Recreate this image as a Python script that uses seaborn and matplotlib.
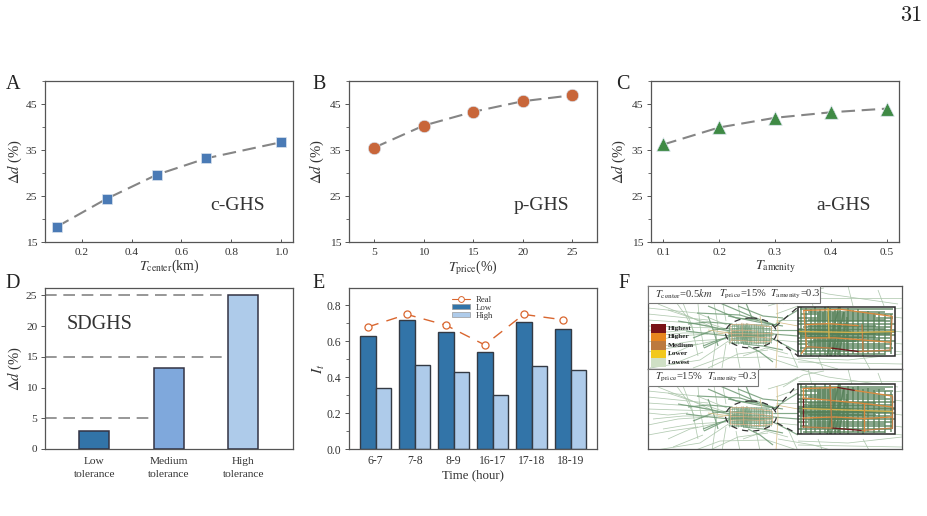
import matplotlib
matplotlib.use("Agg")
import matplotlib.pyplot as plt
from matplotlib.collections import LineCollection
from matplotlib.lines import Line2D
from matplotlib.patches import Ellipse, Patch, Rectangle
import pandas as pd
import seaborn as sns

# ---- sensitivity curves ----
T_CENTER = [0.1, 0.3, 0.5, 0.7, 1.0]
D_CENTER = [18.3, 24.4, 29.6, 33.2, 36.7]
T_PRICE = [5, 10, 15, 20, 25]
D_PRICE = [35.5, 40.3, 43.3, 45.6, 46.9]
T_AMENITY = [0.1, 0.2, 0.3, 0.4, 0.5]
D_AMENITY = [36.2, 39.9, 42.0, 43.2, 44.0]

# ---- tolerance bars ----
TOLERANCE = ["Low\ntolerance", "Medium\ntolerance", "High\ntolerance"]
D_TOLERANCE = [3.0, 13.2, 25.1]
TOLERANCE_REFS = [5, 15, 25]

# ---- hourly bars ----
HOURS = ["6-7", "7-8", "8-9", "16-17", "17-18", "18-19"]
I_LOW = [0.63, 0.72, 0.65, 0.54, 0.71, 0.67]
I_HIGH = [0.34, 0.47, 0.43, 0.30, 0.46, 0.44]
I_REAL = [0.68, 0.75, 0.69, 0.58, 0.75, 0.72]

# ---- street network: regional roads, in panel units ----
ROADS_DARK = [
    [(49, 27), (92, 29), (125, 39)], [(72, 17), (105, 31), (127, 39)],
    [(60, 20), (88, 32), (110, 34)], [(56, 62), (79, 51)],
    [(30, 35), (60, 40), (82, 45)], [(38, 45), (62, 48), (82, 50)],
    [(55, 60), (70, 54), (85, 50)], [(100, 60), (112, 66), (125, 76)],
    [(98, 17), (104, 32)], [(125, 40), (140, 30), (150, 24)],
    [(123, 52), (135, 58), (150, 66)], [(60, 30), (66, 46), (70, 60)],
    [(40, 38), (60, 36), (84, 38)], [(45, 52), (65, 44), (82, 42)],
    [(80, 30), (110, 36), (135, 40)], [(125, 44), (150, 44)], [(125, 48), (150, 50)],
    [(90, 20), (115, 30), (135, 32)], [(95, 58), (115, 60), (135, 64)],
]
ROADS_PALE = [
    [(0, 22), (49, 27), (79, 39)], [(0, 34), (45, 37), (82, 46)],
    [(2, 82), (52, 74), (82, 54)], [(45, 82), (72, 72), (119, 71), (149, 81)],
    [(0, 56), (30, 50), (60, 48)], [(10, 18), (40, 30), (66, 42)],
    [(20, 70), (42, 60), (66, 55)], [(35, 17), (44, 40), (50, 70)],
    [(66, 17), (70, 40), (64, 82)], [(90, 17), (92, 30)], [(88, 62), (92, 82)],
    [(108, 62), (112, 82)], [(150, 0), (180, 8), (250, 18)],
    [(135, 18), (155, 6), (176, 2)], [(200, 0), (205, 20)], [(230, 4), (236, 20)],
    [(150, 72), (200, 74), (254, 68)], [(170, 70), (175, 83)], [(215, 70), (222, 83)],
    [(238, 30), (254, 32)], [(238, 44), (254, 46)], [(238, 56), (254, 58)],
    [(128, 34), (150, 34)], [(128, 54), (150, 56)], [(128, 28), (150, 20)],
    [(0, 44), (20, 46), (40, 44)], [(140, 60), (150, 82)], [(25, 78), (55, 66)],
    [(0, 28), (30, 31), (60, 34)], [(0, 40), (30, 41), (70, 42)], [(5, 50), (35, 47), (75, 47)],
    [(15, 60), (45, 55), (78, 53)], [(20, 24), (50, 34), (78, 43)], [(28, 16), (38, 30), (46, 46)],
    [(50, 18), (52, 40), (56, 62)], [(75, 18), (78, 35)], [(78, 58), (74, 82)],
    [(95, 70), (118, 62), (140, 68)], [(60, 82), (90, 68), (120, 64)], [(120, 20), (140, 14), (150, 8)],
    [(130, 70), (165, 76), (190, 83)], [(150, 12), (200, 12), (254, 12)], [(160, 0), (165, 20)],
    [(150, 76), (254, 78)], [(238, 24), (254, 22)], [(238, 64), (254, 66)], [(0, 66), (22, 62), (50, 58)],
]
ROADS_TAN = [[(129, 17), (130, 48), (128, 82)], [(112, 30), (118, 60)], [(70, 48), (95, 44)],
             [(128, 36), (150, 40)], [(60, 44), (82, 47)]]

# ---- street network: central district, in unit-square coordinates ----
GRID_ROWS = [
    (0.05, 0.02, 0.98), (0.10, 0.1, 0.9), (0.14, 0.03, 0.98), (0.18, 0.2, 0.8), (0.22, 0.0, 0.98),
    (0.26, 0.1, 0.9), (0.29, 0.0, 0.95), (0.35, 0.0, 1.0), (0.38, 0.1, 0.8), (0.41, 0.05, 0.97),
    (0.44, 0.1, 0.9), (0.47, 0.0, 1.0), (0.50, 0.0, 1.0), (0.53, 0.0, 0.97), (0.56, 0.05, 0.95),
    (0.58, 0.02, 1.0), (0.61, 0.1, 0.8), (0.64, 0.0, 0.95), (0.67, 0.15, 0.85), (0.70, 0.0, 1.0),
    (0.76, 0.0, 0.97), (0.80, 0.1, 0.9), (0.83, 0.02, 0.98), (0.90, 0.0, 0.96), (0.96, 0.05, 0.9),
]
GRID_COLS = [
    (0.03, 0.0, 1.0), (0.08, 0.02, 0.98), (0.13, 0.04, 1.0), (0.18, 0.0, 0.96), (0.21, 0.1, 0.9),
    (0.23, 0.05, 1.0), (0.26, 0.1, 0.9), (0.28, 0.0, 0.97), (0.31, 0.1, 0.95), (0.33, 0.02, 1.0),
    (0.36, 0.1, 0.9), (0.38, 0.06, 0.96), (0.41, 0.1, 0.98), (0.43, 0.0, 1.0), (0.47, 0.1, 0.98),
    (0.50, 0.2, 0.9), (0.52, 0.03, 1.0), (0.57, 0.06, 0.95), (0.62, 0.04, 0.98), (0.67, 0.1, 1.0),
    (0.72, 0.08, 0.96), (0.78, 0.12, 0.98), (0.84, 0.1, 0.95), (0.90, 0.14, 0.98), (0.96, 0.15, 0.95),
]
GRID_SLANTS = [
    [(0.30, 1.0), (0.42, 0.0)], [(0.38, 1.0), (0.47, 0.1)], [(0.42, 0.95), (0.5, 0.3)],
    [(0.34, 1.0), (0.44, 0.3)], [(0.0, 0.45), (0.55, 0.5)], [(0.02, 0.6), (0.7, 0.62)],
    [(0.1, 0.72), (0.6, 0.7)], [(0.0, 0.55), (0.8, 0.55)],
]

# Classified arterials per scenario: (class, polyline)
ARTERIALS_A = [
    ("Higher", [(0.06, 0.07), (0.45, 0.05), (0.97, 0.19)]),
    ("Medium", [(0.97, 0.19), (0.95, 0.88)]),
    ("Higher", [(0.06, 0.07), (0.087, 0.81), (0.035, 0.95)]),
    ("Medium", [(0.087, 0.81), (0.35, 0.84)]),
    ("Highest", [(0.35, 0.84), (0.63, 0.91)]),
    ("Medium", [(0.63, 0.91), (0.95, 0.88)]),
    ("Higher", [(0.087, 0.36), (0.31, 0.34), (0.62, 0.38)]),
    ("Higher", [(0.087, 0.63), (0.38, 0.63), (0.66, 0.67), (0.95, 0.72)]),
    ("Lower", [(0.31, 0.0), (0.32, 0.63)]),
    ("Medium", [(0.66, 0.36), (0.67, 0.9)]),
    ("Lower", [(0.0, 0.5), (0.6, 0.52), (1.0, 0.5)]),
]
ARTERIALS_B = [
    ("Higher", [(0.05, 0.09), (0.41, 0.07)]),
    ("Highest", [(0.41, 0.07), (0.59, 0.13)]),
    ("Higher", [(0.59, 0.13), (0.97, 0.24)]),
    ("Medium", [(0.97, 0.24), (0.97, 0.88)]),
    ("Highest", [(0.05, 0.28), (0.05, 0.86)]),
    ("Higher", [(0.05, 0.09), (0.05, 0.28)]),
    ("Medium", [(0.05, 0.86), (0.35, 0.88)]),
    ("Highest", [(0.35, 0.88), (0.66, 0.93)]),
    ("Medium", [(0.66, 0.93), (0.97, 0.88)]),
    ("Higher", [(0.05, 0.28), (0.35, 0.33), (0.68, 0.39), (0.97, 0.46)]),
    ("Higher", [(0.05, 0.68), (0.38, 0.66), (0.68, 0.69), (0.97, 0.66)]),
    ("Lower", [(0.05, 0.49), (0.5, 0.52), (0.97, 0.55)]),
    ("Medium", [(0.33, 0.03), (0.35, 0.88)]),
    ("Higher", [(0.68, 0.39), (0.68, 0.93)]),
]

LEVELS = ["Highest", "Higher", "Medium", "Lower", "Lowest"]
LEVEL_COLORS = ["#7a1418", "#e8861f", "#bc7a3f", "#f2c81e", "#cfe0c5"]
ROAD_COLORS = {"Highest": "#6e1a1c", "Higher": "#d98a3f", "Medium": "#bd7f48", "Lower": "#d4b24c"}

# ---- styling ----
sns.set_theme(style="ticks")
INK = "#333333"
SPINE = "#555555"
plt.rcParams.update({
    "font.family": ["Liberation Serif", "DejaVu Serif"],
    "mathtext.fontset": "stix",
    "text.color": INK,
    "axes.labelcolor": INK,
    "xtick.color": SPINE,
    "ytick.color": SPINE,
    "xtick.labelcolor": INK,
    "ytick.labelcolor": INK,
    "axes.edgecolor": SPINE,
    "axes.linewidth": 0.9,
})

W, H = 928, 516
fig = plt.figure(figsize=(W / 100, H / 100), dpi=100, facecolor="white")


def axes_px(left, top, right, bottom):
    """Create axes from a box given in figure pixels, measured from the top left."""
    return fig.add_axes([left / W, 1 - bottom / H, (right - left) / W, (bottom - top) / H])


def letter(text, x, y):
    fig.text(x / W, 1 - y / H, text, fontsize=14.5, ha="center", va="center", color="#222222")


def style_ticks(ax, size=8.2):
    ax.tick_params(axis="y", which="major", labelsize=size, length=3, width=0.7, pad=2.5)
    ax.tick_params(axis="y", which="minor", length=2, width=0.6)
    ax.tick_params(axis="x", which="major", labelsize=size, length=2.5, width=0.7, pad=4.5,
                   direction="in")


def curve_panel(box, xs, ys, color, marker, msize, xlim, xticks, xfmt, xlabel, tag, ylab_x):
    ax = axes_px(*box)
    sns.lineplot(x=xs, y=ys, ax=ax, color="#858585", lw=1.5, linestyle=(0, (6.5, 3.2)),
                 errorbar=None, zorder=2)
    sns.scatterplot(x=xs, y=ys, ax=ax, color=color, marker=marker, s=msize,
                    edgecolor="#dbe4ee", linewidth=0.5, zorder=3)
    ax.set_xlim(*xlim)
    ax.set_ylim(15, 50)
    ax.set_xticks(xticks)
    ax.set_xticklabels([xfmt.format(t) for t in xticks])
    ax.set_yticks([15, 25, 35, 45])
    ax.set_yticks([20, 30, 40, 50], minor=True)
    style_ticks(ax)
    ax.set_xlabel(xlabel, fontsize=10, labelpad=0.5)
    ax.set_ylabel(r"$\Delta d$ (%)", fontsize=10.5)
    ax.yaxis.set_label_coords(ylab_x, 0.5)
    ax.text(0.775, 0.225, tag, transform=ax.transAxes, fontsize=14, ha="center", va="center")
    return ax


curve_panel((45, 81, 293, 242), T_CENTER, D_CENTER, "#4a7ab5", "s", 62, (0.053, 1.047),
            [0.2, 0.4, 0.6, 0.8, 1.0], "{:.1f}", r"$T_{\mathrm{center}}$(km)", "c-GHS", -0.085)
curve_panel((349, 81, 597, 242), T_PRICE, D_PRICE, "#c8663a", "o", 80, (2.47, 27.5),
            [5, 10, 15, 20, 25], "{:d}", r"$T_{\mathrm{price}}$(%)", "p-GHS", -0.093)
curve_panel((651, 81, 899, 242), T_AMENITY, D_AMENITY, "#3f8a45", "^", 95, (0.078, 0.522),
            [0.1, 0.2, 0.3, 0.4, 0.5], "{:.1f}", r"$T_{\mathrm{amenity}}$", "a-GHS", -0.093)

# ---- tolerance scenarios ----
ax_d = axes_px(45, 288, 293, 449)
sns.barplot(x=TOLERANCE, y=D_TOLERANCE, hue=TOLERANCE, ax=ax_d, legend=False, width=0.4,
            palette=["#3274a8", "#7fa8dc", "#aecbea"], saturation=1,
            edgecolor="#333344", linewidth=1.1, zorder=3)
ax_d.set_xlim(-0.66, 2.665)
ax_d.set_ylim(0, 26.2)
ax_d.set_yticks([0, 5, 10, 15, 20, 25])
style_ticks(ax_d)
ax_d.tick_params(axis="x", pad=6)
for lab in ax_d.get_xticklabels():
    lab.set_linespacing(1.5)
ax_d.set_ylabel(r"$\Delta d$ (%)", fontsize=10.5)
ax_d.yaxis.set_label_coords(-0.085, 0.5)
bar_edges = [ax_d.patches[1].get_x(), ax_d.patches[2].get_x(), ax_d.patches[2].get_x()]
for ref, edge in zip(TOLERANCE_REFS, bar_edges):
    ax_d.plot([-0.66, edge], [ref, ref], color="#858585", lw=1.2, ls=(0, (7, 4)), zorder=1)
ax_d.text(0.218, 0.776, "SDGHS", transform=ax_d.transAxes, fontsize=14.5, ha="center", va="center")

# ---- hourly index ----
ax_e = axes_px(349, 288, 597, 449)
hourly = pd.DataFrame({
    "hour": HOURS * 2,
    "value": I_LOW + I_HIGH,
    "group": ["Low"] * len(HOURS) + ["High"] * len(HOURS),
})
sns.barplot(data=hourly, x="hour", y="value", hue="group", ax=ax_e, legend=False, width=0.8,
            palette=["#3274a8", "#aecbea"], saturation=1,
            edgecolor="#333a44", linewidth=1.0, zorder=2)
low_centers = [b.get_x() + b.get_width() / 2 for b in ax_e.containers[0]]
sns.lineplot(x=low_centers, y=I_REAL, ax=ax_e, color="#d9662f", lw=1.0,
             linestyle=(0, (8, 6)), errorbar=None, zorder=3)
sns.scatterplot(x=low_centers, y=I_REAL, ax=ax_e, marker="o", s=26, facecolor="white",
                edgecolor="#d9662f", linewidth=0.9, zorder=4)
ax_e.set_xlim(-0.684, 5.68)
ax_e.set_ylim(0, 0.897)
ax_e.set_yticks([0, 0.2, 0.4, 0.6, 0.8])
ax_e.set_yticks([0.1, 0.3, 0.5, 0.7], minor=True)
style_ticks(ax_e, 8.4)
ax_e.set_xlabel("Time (hour)", fontsize=9.3, labelpad=1.5)
ax_e.set_ylabel(r"$I_t$", fontsize=11)
ax_e.yaxis.set_label_coords(-0.09, 0.5)
ax_e.legend(
    handles=[
        Line2D([], [], color="#d9662f", lw=0.8, marker="o", ms=4.2, mfc="white", mew=0.7),
        Patch(facecolor="#3274a8", edgecolor="#999999", lw=0.5),
        Patch(facecolor="#aecbea", edgecolor="#999999", lw=0.5),
    ],
    labels=["Real", "Low", "High"], loc="upper center", bbox_to_anchor=(0.5, 0.985),
    frameon=False, fontsize=6.3, handlelength=2.0, handleheight=0.55, labelspacing=0.0,
    borderpad=0.1, handletextpad=0.7,
)

# ---- street maps ----


def place(points, box):
    x0, y0, x1, y1 = box
    return [(x0 + u * (x1 - x0), y0 + v * (y1 - y0)) for u, v in points]


def district_lines(box, width, color, alpha=0.85):
    rows = [[(a, v), (b, v)] for v, a, b in GRID_ROWS]
    cols = [[(u, a), (u, b)] for u, a, b in GRID_COLS]
    segs = [place(s, box) for s in rows + cols + GRID_SLANTS]
    return LineCollection(segs, colors=color, linewidths=width, alpha=alpha)


def map_panel(ax, y_shift, inset_y, arterials, header, header_box):
    ax.set_xlim(0, 254)
    ax.set_ylim(header_box[1] + y_shift, y_shift)
    ax.set_xticks([])
    ax.set_yticks([])
    ax.add_collection(LineCollection(ROADS_PALE, colors="#a9c4a8", linewidths=0.55, alpha=0.9, zorder=1))
    ax.add_collection(LineCollection(ROADS_DARK, colors="#6f9a75", linewidths=0.85, alpha=0.85, zorder=1))
    ax.add_collection(LineCollection(ROADS_TAN, colors="#d8c08a", linewidths=0.55, zorder=1))

    # District drawn small inside the dashed outline
    mini = (80, 37, 125, 58)
    ax.add_collection(district_lines(mini, 0.45, "#6f9a75", 0.85))
    for level, pts in arterials:
        xy = place(pts, mini)
        ax.plot(*zip(*xy), color="#d6ac80", lw=0.5, zorder=3)
    ax.add_patch(Ellipse((103, 47), 51, 30, fill=False, ec="#333333", lw=0.9,
                         ls=(0, (5, 4)), zorder=4))

    # Enlarged district with its leader lines
    x0, x1 = 150, 247
    y0, y1 = inset_y
    ax.plot([127, x0], [41, y0], color="#333333", lw=0.9, ls=(0, (5, 4)), zorder=4)
    ax.plot([129, x0], [54, y1], color="#333333", lw=0.9, ls=(0, (5, 4)), zorder=4)
    ax.add_patch(Rectangle((x0, y0), x1 - x0, y1 - y0, fc="white", ec="none", zorder=4))
    box = (x0, y0, x1, y1)
    lines = district_lines(box, 1.15, "#558058", 0.85)
    lines.set_zorder(5)
    ax.add_collection(lines)
    for level, pts in arterials:
        xy = place(pts, box)
        ax.plot(*zip(*xy), color=ROAD_COLORS[level], lw=0.95, zorder=6, solid_capstyle="round")
    ax.add_patch(Rectangle((x0, y0), x1 - x0, y1 - y0, fill=False, ec="#2a2a2a", lw=1.1, zorder=7))

    # Header strip stating the thresholds
    ax.add_patch(Rectangle((0, y_shift), header_box[0], 17, fc="white", ec="#777777", lw=0.8, zorder=8))
    for x, text in header:
        ax.text(x, y_shift + 8.5, text, fontsize=7.6, va="center", ha="left", zorder=9)
    for spine in ax.spines.values():
        spine.set_color("#555555")
        spine.set_linewidth(0.9)


ax_f1 = axes_px(648, 286, 902, 369)
ax_f2 = axes_px(648, 369, 902, 449)
map_panel(
    ax_f1, 0, (21, 70), ARTERIALS_A,
    [(7, r"$T_{\mathrm{center}}$=0.5$km$"), (71, r"$T_{\mathrm{price}}$=15%"),
     (122, r"$T_{\mathrm{amenity}}$=0.3")],
    (172, 83),
)
map_panel(
    ax_f2, 0, (15, 65), ARTERIALS_B,
    [(7, r"$T_{\mathrm{price}}$=15%"), (59, r"$T_{\mathrm{amenity}}$=0.3")],
    (110, 80),
)

# Class key, overlaid on the upper map
for i, (name, col) in enumerate(zip(LEVELS, LEVEL_COLORS)):
    top = 38 + i * 8.55
    ax_f1.add_patch(Rectangle((3, top), 15, 8.55, fc=col, ec="none", zorder=8))
    ax_f1.text(20, top + 4.3, name, fontsize=5.2, fontweight="bold", va="center", ha="left",
               color="#222222", zorder=9)

# ---- panel letters and page number ----
for text, x, y in [("A", 13, 84), ("B", 319, 84), ("C", 623, 84),
                   ("D", 13, 283), ("E", 319, 283), ("F", 624, 283)]:
    letter(text, x, y)
fig.text(922 / W, 1 - 15 / H, "31", family="cmr10", fontsize=16, ha="right", va="center", color="#222222")

fig.savefig("out.png", dpi=100, facecolor="white")
